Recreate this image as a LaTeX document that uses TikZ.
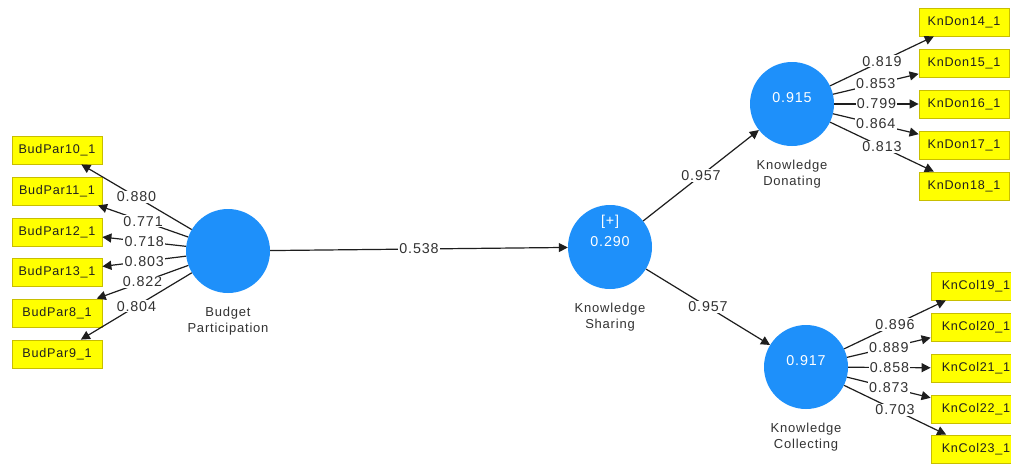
\documentclass[tikz,border=0pt]{standalone}
\usepackage{fontspec}
\setmainfont{Liberation Sans}[LetterSpace=6]
\usetikzlibrary{arrows.meta}
\definecolor{lvblue}{RGB}{30,144,250}
\definecolor{indfill}{RGB}{255,255,0}
\definecolor{inddraw}{RGB}{200,190,0}
\definecolor{txtgray}{RGB}{50,50,50}
\definecolor{linegray}{RGB}{30,30,30}
\begin{document}
\begin{tikzpicture}[x=1pt,y=-1pt,
  latent/.style={circle,fill=lvblue,minimum size=84pt,inner sep=0pt},
  indicator/.style={rectangle,fill=indfill,draw=inddraw,line width=0.8pt,
    minimum width=90pt,minimum height=28pt,inner sep=0pt,
    font=\fontsize{12.6}{15}\selectfont,text=black!88},
  pathline/.style={draw=linegray,line width=1.2pt,-{Triangle[length=9pt,width=9pt]}},
  coef/.style={fill=white,inner sep=1.2pt,font=\fontsize{14.3}{16}\selectfont,text=txtgray},
  cname/.style={align=center,font=\fontsize{13}{16}\selectfont,text=txtgray},
  cval/.style={text=white,font=\fontsize{14.3}{16}\selectfont,inner sep=0pt}]

% canvas
\fill[white] (0,0) rectangle (1011,463);
\clip (0,0) rectangle (1011,463);

% latent variables
\node[latent] (bp) at (228,251) {};
\node[latent] (ks) at (610,247) {};
\node[latent] (kd) at (792,104) {};
\node[latent] (kc) at (806,367) {};

\node[cval] (ksplus) at ([yshift=25pt]ks.center) {[+]};
\node[cval] (ksr2) at ([yshift=5pt]ks.center) {0.290};
\node[cval] (kdr2) at ([yshift=6pt]kd.center) {0.915};
\node[cval] (kcr2) at ([yshift=6pt]kc.center) {0.917};

\node[cname] (bpname) at ([yshift=-70pt]bp.center) {Budget\\Participation};
\node[cname] (ksname) at ([yshift=-70pt]ks.center) {Knowledge\\Sharing};
\node[cname] (kdname) at ([yshift=-70pt]kd.center) {Knowledge\\Donating};
\node[cname] (kcname) at ([yshift=-70pt]kc.center) {Knowledge\\Collecting};

% indicators
\node[indicator] (b10) at (57,150) {BudPar10\_1};
\node[indicator] (b11) at (57,191) {BudPar11\_1};
\node[indicator] (b12) at (57,232) {BudPar12\_1};
\node[indicator] (b13) at (57,272) {BudPar13\_1};
\node[indicator] (b8)  at (57,313) {BudPar8\_1};
\node[indicator] (b9)  at (57,354) {BudPar9\_1};

\node[indicator] (d14) at (964,22)  {KnDon14\_1};
\node[indicator] (d15) at (964,63)  {KnDon15\_1};
\node[indicator] (d16) at (964,104) {KnDon16\_1};
\node[indicator] (d17) at (964,145) {KnDon17\_1};
\node[indicator] (d18) at (964,186) {KnDon18\_1};

\node[indicator] (c19) at (976,286) {KnCol19\_1};
\node[indicator] (c20) at (976,327) {KnCol20\_1};
\node[indicator] (c21) at (976,368) {KnCol21\_1};
\node[indicator] (c22) at (976,409) {KnCol22\_1};
\node[indicator] (c23) at (976,449) {KnCol23\_1};

% structural paths
\draw[pathline] (bp) -- coordinate[pos=.5] (mbpks) (ks);
\draw[pathline] (ks) -- coordinate[pos=.5] (mkskd) (kd);
\draw[pathline] (ks) -- coordinate[pos=.5] (mkskc) (kc);

% outer loadings
\foreach \i in {10,11,12,13,8,9}
  \draw[pathline] (bp) -- coordinate[pos=.5] (m\i) (b\i);
\foreach \i in {14,15,16,17,18}
  \draw[pathline] (kd) -- coordinate[pos=.5] (m\i) (d\i);
\foreach \i in {19,20,21,22,23}
  \draw[pathline] (kc) -- coordinate[pos=.5] (m\i) (c\i);

% coefficients
\node[coef] (lbpks) at (mbpks) {0.538};
\node[coef] (lkskd) at (mkskd) {0.957};
\node[coef] (lkskc) at (mkskc) {0.957};

\node[coef] (l10) at (m10) {0.880};
\node[coef] (l11) at (m11) {0.771};
\node[coef] (l12) at (m12) {0.718};
\node[coef] (l13) at (m13) {0.803};
\node[coef] (l8)  at (m8)  {0.822};
\node[coef] (l9)  at (m9)  {0.804};

\node[coef] (l14) at (m14) {0.819};
\node[coef] (l15) at (m15) {0.853};
\node[coef] (l16) at (m16) {0.799};
\node[coef] (l17) at (m17) {0.864};
\node[coef] (l18) at (m18) {0.813};

\node[coef] (l19) at (m19) {0.896};
\node[coef] (l20) at (m20) {0.889};
\node[coef] (l21) at (m21) {0.858};
\node[coef] (l22) at (m22) {0.873};
\node[coef] (l23) at (m23) {0.703};
\end{tikzpicture}
\end{document}
